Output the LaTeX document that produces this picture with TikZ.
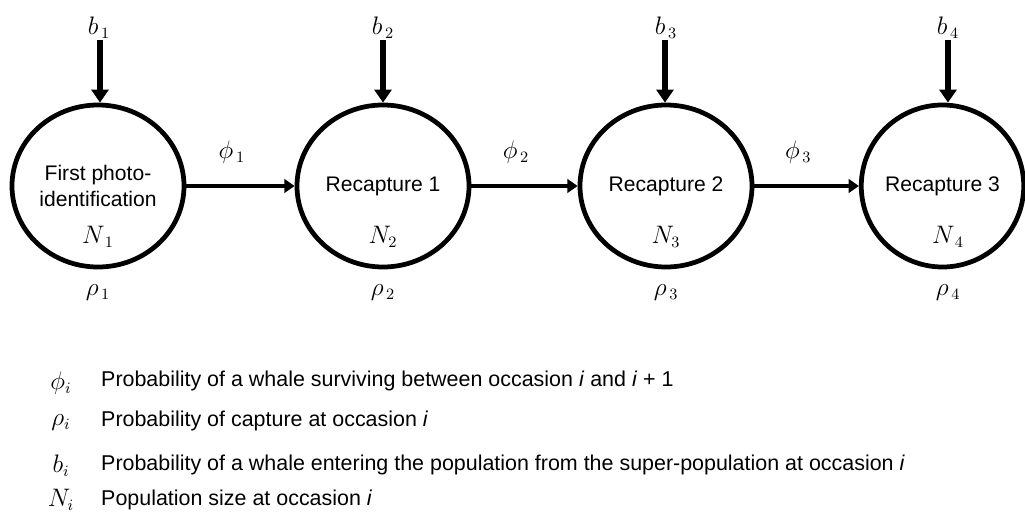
\documentclass[tikz,border=0pt]{standalone}
\usepackage{amsmath}
\usepackage[no-math]{fontspec}
\setmainfont{Liberation Sans}
\usepackage{tikz}
\usetikzlibrary{arrows.meta, positioning, shapes.geometric}

\tikzset{
	stage/.style={draw, ellipse, line width=2.7pt, inner sep=0pt, minimum width=3.44cm, minimum height=3.24cm, align=center, font=\fontsize{12}{14.5}\selectfont},
	inflow/.style={line width=3.4pt, -{Triangle[length=7.4pt, width=9.6pt]}},
	survive/.style={line width=2.7pt, -{Triangle[length=5.9pt, width=7.8pt]}},
	sym/.style={font=\fontsize{13.5}{16}\selectfont},
	legtext/.style={anchor=west, font=\fontsize{12.2}{14.5}\selectfont}
}

\begin{document}
\begin{tikzpicture}
				\useasboundingbox (0, 0) rectangle (20.5, 10.3);
				% Occasions:
				\node[stage] (s1) at (1.96, 6.58) {First photo-\\identification};
				\node[stage] (s2) at (7.66, 6.58) {Recapture 1};
				\node[stage] (s3) at (13.32, 6.58) {Recapture 2};
				\node[stage, minimum width=3.14cm] (s4) at (18.85, 6.58) {Recapture 3};
				% Entries from the super-population:
				\node[sym] (b1) at (1.98, 9.74) {$b_{\,1}$};
				\node[sym] (b2) at (7.66, 9.74) {$b_{\,2}$};
				\node[sym] (b3) at (13.32, 9.74) {$b_{\,3}$};
				\node[sym] (b4) at (18.96, 9.74) {$b_{\,4}$};
				\coordinate (t1) at (2.0, 9.5);
				\coordinate (t2) at (7.66, 9.5);
				\coordinate (t3) at (13.3, 9.5);
				\coordinate (t4) at (18.96, 9.5);
				\draw[inflow] (t1) -- (t1 |- s1.north);
				\draw[inflow] (t2) -- (t2 |- s2.north);
				\draw[inflow] (t3) -- (t3 |- s3.north);
				\draw[inflow] (t4) -- (t4 |- s4.north);
				% Survival between occasions:
				\draw[survive] (s1) -- node[sym, above=0.28cm, pos=0.42] (f1) {$\phi_{\,1}$} (s2);
				\draw[survive] (s2) -- node[sym, above=0.28cm, pos=0.42] (f2) {$\phi_{\,2}$} (s3);
				\draw[survive] (s3) -- node[sym, above=0.28cm, pos=0.42] (f3) {$\phi_{\,3}$} (s4);
				% Sizes and capture probabilities:
				\node[sym] (n1) at (1.96, 5.56) {$N_{\,1}$};
				\node[sym] (n2) at (7.66, 5.56) {$N_2$};
				\node[sym] (n3) at (13.32, 5.56) {$N_3$};
				\node[sym] (n4) at (18.96, 5.56) {$N_{\,4}$};
				\node[sym] (r1) at (1.96, 4.44) {$\rho_{\,1}$};
				\node[sym] (r2) at (7.66, 4.44) {$\rho_{\,2}$};
				\node[sym] (r3) at (13.32, 4.44) {$\rho_{\,3}$};
				\node[sym] (r4) at (18.96, 4.44) {$\rho_{\,4}$};
				% Legend:
				\node[sym] (lphi) at (1.22, 2.64) {$\phi_i$};
				\node[sym] (lrho) at (1.22, 1.84) {$\rho_i$};
				\node[sym] (lb) at (1.22, 0.99) {$b_i$};
				\node[sym] (ln) at (1.22, 0.3) {$N_i$};
				\node[legtext] (tphi) at (1.9, 2.68) {Probability of a whale surviving between occasion \textit{i} and \textit{i} + 1};
				\node[legtext] (trho) at (1.9, 1.88) {Probability of capture at occasion \textit{i}};
				\node[legtext] (tb) at (1.9, 1.01) {Probability of a whale entering the population from the super-population at occasion \textit{i}};
				\node[legtext] (tn) at (1.9, 0.3) {Population size at occasion \textit{i}};
			\end{tikzpicture}
\end{document}
